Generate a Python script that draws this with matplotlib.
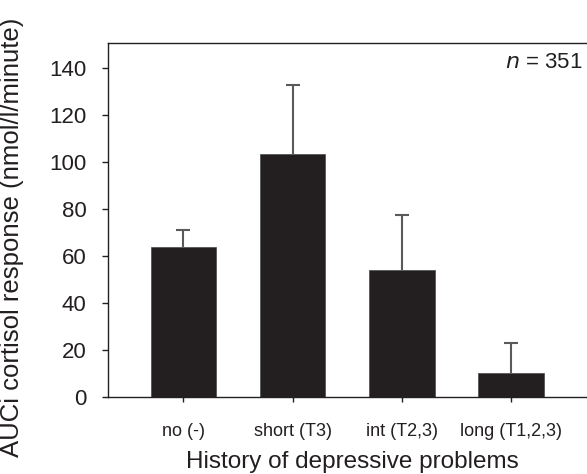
import matplotlib.pyplot as plt
import numpy as np

plt.rcParams['font.family'] = ['Liberation Sans', 'DejaVu Sans']

groups = ['no (-)', 'short (T3)', 'int (T2,3)', 'long (T1,2,3)']
auci = [63.7, 103.4, 54.0, 10.0]
err_up = [7.2, 29.3, 23.4, 12.8]
y_ticks = [0, 20, 40, 60, 80, 100, 120, 140]

fig = plt.figure(figsize=(5.87, 4.74), dpi=100)
ax = fig.add_axes([108/587, 77/474, 1 - 108/587, (397-43)/474])

x = np.arange(len(groups))
ax.bar(x, auci, width=0.6, color='#231f20', edgecolor='#555555', linewidth=0.6, zorder=2)
eb = ax.errorbar(x, auci, yerr=[np.zeros(len(auci)), err_up], fmt='none',
                 ecolor='#5a5a5a', elinewidth=1.5, capsize=4.7, capthick=1.5, zorder=1)
eb[1][0].set_visible(False)  # no cap at the bar top

ax.set_xlim(-0.69, 3.695)
ax.set_ylim(0, 150.5)
ax.set_yticks(y_ticks)
ax.set_xticks(x)
ax.set_xticklabels(groups)

for s in ['top', 'bottom', 'left']:
    ax.spines[s].set_color('#231f20')
    ax.spines[s].set_linewidth(1.0)
ax.spines['right'].set_visible(False)

ax.tick_params(axis='y', direction='out', length=4.3, width=1, color='#231f20',
               labelsize=16, pad=11, labelcolor='#231f20')
ax.tick_params(axis='x', direction='out', length=3.5, width=1, color='#231f20',
               labelsize=13, pad=15, labelcolor='#231f20')

ax.text(0.99, 0.975, r'$n$ = 351', transform=ax.transAxes, ha='right', va='top',
        fontsize=16, color='#231f20')

fig.text(352/587, 1 - 462/474, 'History of depressive problems', ha='center', va='center',
         fontsize=17.5, color='#231f20')
fig.text(12/587, 0.5, 'AUCi cortisol response (nmol/l/minute)', rotation=90,
         ha='center', va='center', fontsize=18.5, color='#231f20')

fig.savefig('out.png', dpi=100)
